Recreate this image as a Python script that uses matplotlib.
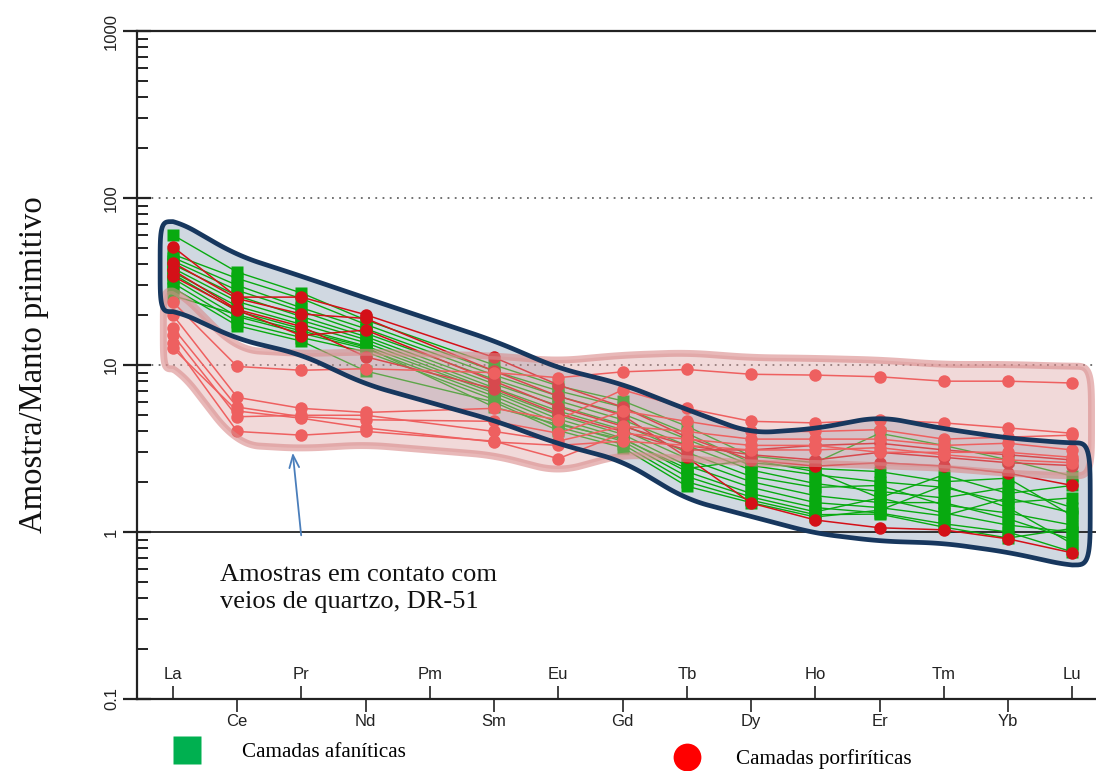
import numpy as np
import matplotlib.pyplot as plt
from matplotlib.patches import Polygon
from matplotlib.lines import Line2D

# elementos terras raras (Pm sem dados)
elements = ["La", "Ce", "Pr", "Nd", "Pm", "Sm", "Eu", "Gd", "Tb", "Dy", "Ho", "Er", "Tm", "Yb", "Lu"]
data_elements = ["La", "Ce", "Pr", "Nd", "Sm", "Eu", "Gd", "Tb", "Dy", "Ho", "Er", "Tm", "Yb", "Lu"]

# camadas afaniticas (verde), normalizado ao manto primitivo
afaniticas = [
    [60, 36, 27, 18.6, 10.0, 7.5, 6.1, 4.3, 2.85, 2.6, 3.9, 3.3, 2.7, 2.16],
    [46, 33, 25, 17.5, 9.2, 7.0, 5.6, 3.9, 2.6, 2.4, 2.3, 2.0, 2.1, 1.25],
    [44, 30, 22, 16.5, 8.7, 6.5, 5.1, 3.6, 2.5, 2.2, 2.0, 1.85, 1.5, 1.6],
    [42, 28, 21, 15.5, 8.2, 6.1, 4.7, 3.3, 2.35, 1.95, 1.75, 1.6, 1.85, 1.4],
    [40, 26, 19.5, 14.8, 7.7, 5.7, 4.4, 3.0, 2.15, 1.85, 1.9, 1.45, 1.3, 1.1],
    [38, 24, 18.5, 14.2, 7.3, 5.3, 4.1, 2.75, 2.0, 1.65, 1.5, 1.5, 1.2, 0.9],
    [36, 22.5, 17.5, 13.6, 7.0, 5.0, 3.85, 2.5, 1.85, 1.5, 1.4, 1.25, 1.6, 1.3],
    [35, 21, 16.5, 13.0, 6.8, 4.75, 3.65, 2.3, 1.7, 1.4, 1.3, 1.12, 1.0, 0.76],
    [33, 19.5, 15.5, 12.5, 6.5, 4.5, 3.5, 2.15, 1.62, 1.32, 1.6, 1.3, 1.1, 1.0],
    [31, 18.2, 14.6, 12.0, 6.2, 4.25, 3.35, 2.0, 1.55, 1.27, 1.28, 1.07, 0.92, 1.05],
    [29, 17.2, 13.9, 9.2, 6.0, 4.05, 3.2, 1.88, 1.5, 1.23, 1.35, 1.9, 1.4, 0.85],
    [26, 20, 16, 12.8, 5.6, 4.4, 3.6, 2.4, 2.7, 2.3, 1.6, 2.2, 1.7, 1.9],
]

# camadas porfiriticas (vermelho)
porfiriticas = [
    [51, 25.5, 25.5, 20, 11.1, 7.6, 5.6, 3.7, 2.7, 2.48, 2.6, 2.48, 2.25, 1.9],
    [41, 25, 20.2, 19, 9.2, 6.5, 5.0, 2.8, 1.49, 1.18, 1.06, 1.03, 0.91, 0.75],
    [34, 21.3, 15, 16.2, 8.0, 5.6, 4.3, 3.3, 2.9, 2.7, 3.0, 2.8, 2.6, 2.5],
    [37, 21.5, 17, 11.2, 7.2, 5.1, 4.0, 3.1, 3.1, 3.3, 3.4, 3.1, 2.9, 2.7],
]

# amostras em contato com veios de quartzo (DR-51)
dr51 = [
    [23.8, 9.8, 9.3, 9.5, 9.0, 8.4, 9.1, 9.4, 8.8, 8.7, 8.5, 8.0, 8.0, 7.8],
    [19.9, 6.4, 5.5, 5.2, 5.5, 4.7, 7.1, 5.5, 4.6, 4.5, 4.7, 4.5, 4.2, 3.9],
    [16.7, 5.6, 4.9, 4.7, 4.6, 3.9, 5.3, 4.6, 4.0, 4.0, 4.1, 3.6, 3.7, 3.8],
    [15.1, 4.9, 5.0, 5.0, 4.0, 3.5, 4.3, 4.0, 3.6, 3.6, 3.6, 3.3, 3.4, 3.1],
    [13.5, 4.0, 3.8, 4.0, 3.5, 2.75, 3.9, 3.6, 3.3, 3.3, 3.0, 3.0, 3.0, 2.8],
    [12.6, 5.3, 4.8, 4.2, 3.46, 3.3, 3.5, 3.3, 3.1, 3.1, 3.2, 2.9, 2.7, 2.6],
]

GREEN = "#08aa10"
RED = "#d41018"
RED_DR = "#fa3636"
SERIF = "Liberation Serif"
SANS = "Liberation Sans"

xpos = np.array([elements.index(e) + 1 for e in data_elements], dtype=float)


def envelope(groups, up, dn, left, right, n=500):
    arr = np.vstack(groups)
    hi = np.log10(arr.max(axis=0)) + up
    lo = np.log10(arr.min(axis=0)) - dn
    xs = np.linspace(xpos[0], xpos[-1], n)
    k = np.ones(25) / 25
    his = np.convolve(np.pad(np.interp(xs, xpos, hi), 12, mode="edge"), k, mode="valid")
    los = np.convolve(np.pad(np.interp(xs, xpos, lo), 12, mode="edge"), k, mode="valid")
    t = np.linspace(0, np.pi, 40)
    # pontas arredondadas (superelipse)
    c, s = np.cos(t), np.sin(t)
    sx = np.sign(s) * np.abs(s) ** 0.45
    sy = np.sign(c) * np.abs(c) ** 0.45
    mid_r, rad_r = (his[-1] + los[-1]) / 2, (his[-1] - los[-1]) / 2
    mid_l, rad_l = (his[0] + los[0]) / 2, (his[0] - los[0]) / 2
    rx = xs[-1] + right * sx
    ry = mid_r + rad_r * sy
    lx = xs[0] - left * sx
    ly = mid_l - rad_l * sy
    px = np.concatenate([xs, rx, xs[::-1], lx])
    py = np.concatenate([his, ry, los[::-1], ly])
    return np.column_stack([px, 10 ** py])


fig = plt.figure(figsize=(10.96, 7.71), dpi=100)
ax = fig.add_axes([137 / 1096, 1 - 699 / 771, 1 - 137 / 1096, (699 - 31) / 771])
ax.set_yscale("log")
ax.set_ylim(0.1, 1000)
ax.set_xlim(0.44, 15.37)

# linhas horizontais
ax.axhline(100, color="#666666", lw=1.3, ls=(0, (1, 3)), zorder=1.5)
ax.axhline(10, color="#666666", lw=1.3, ls=(0, (1, 3)), zorder=1.5)
ax.axhline(1, color="#222222", lw=1.3, zorder=1.5)

# envoltorias
blue_env = envelope(afaniticas + porfiriticas, 0.10, 0.08, 0.2, 0.28)
ax.add_patch(Polygon(blue_env, closed=True, facecolor="#d0d8e1", edgecolor="none", zorder=1))
pink_env = envelope(dr51, 0.10, 0.08, 0.15, 0.3)

for row in afaniticas:
    ax.plot(xpos, row, color=GREEN, lw=1.0, zorder=2)
for row in afaniticas:
    ax.plot(xpos, row, ls="none", marker="s", ms=8.5, color=GREEN, mec="none", zorder=3)
for row in porfiriticas:
    ax.plot(xpos, row, color=RED, lw=1.1, marker="o", ms=9, mec="none", zorder=4)
for row in dr51:
    ax.plot(xpos, row, color=RED_DR, lw=1.1, marker="o", ms=9, mec="none", zorder=4)

ax.add_patch(Polygon(pink_env, closed=True, facecolor="#dea0a0", alpha=0.4, edgecolor="none", zorder=6))
ax.add_patch(Polygon(pink_env, closed=True, fill=False, edgecolor="#d98a8a", alpha=0.6, lw=5, joinstyle="round", zorder=6.5))
ax.add_patch(Polygon(blue_env, closed=True, fill=False, edgecolor="#17375e", lw=3.4, joinstyle="round", zorder=7))

# eixos
ax.spines["right"].set_visible(False)
for side in ["left", "top", "bottom"]:
    ax.spines[side].set_linewidth(1.6)
    ax.spines[side].set_color("#222222")

ax.set_yticks([0.1, 1, 10, 100, 1000])
ax.set_yticklabels(["0.1", "1", "10", "100", "1000"], rotation=90, va="center",
                   fontfamily=SANS, fontsize=12, color="#333333")
ax.tick_params(axis="y", which="major", direction="inout", length=20, width=1.6, pad=3, colors="#222222")
ax.tick_params(axis="y", which="minor", direction="in", length=8, width=1.4, colors="#222222")
ax.yaxis.set_minor_formatter(plt.NullFormatter())

bottom_idx = [i for i in range(len(elements)) if i % 2 == 1]
top_idx = [i for i in range(len(elements)) if i % 2 == 0]
ax.set_xticks([i + 1 for i in bottom_idx])
ax.set_xticklabels([elements[i] for i in bottom_idx], fontfamily=SANS, fontsize=12, color="#222222")
ax.set_xticks([i + 1 for i in top_idx], minor=True)
ax.tick_params(axis="x", which="major", direction="out", length=9.5, width=1.2, pad=1, colors="#222222")
ax.tick_params(axis="x", which="minor", direction="in", length=9.5, width=1.2, colors="#222222")
for i in top_idx:
    ax.annotate(elements[i], xy=(i + 1, 0), xycoords=("data", "axes fraction"),
                xytext=(0, 14.5), textcoords="offset points", ha="center", va="baseline",
                fontfamily=SANS, fontsize=12, color="#222222")

ax.set_ylabel("Amostra/Manto primitivo", fontfamily=SERIF, fontsize=23.5, color="#111111")
ax.yaxis.set_label_coords(-0.092, 0.5)

# anotacao DR-51
ax.annotate("Amostras em contato com\nveios de quartzo, DR-51", xy=(2.86, 3.1), xytext=(1.73, 0.64),
            fontfamily=SERIF, fontsize=19, color="#111111", ha="left", va="top", linespacing=1.25,
            zorder=9)
ax.annotate("", xy=(2.86, 3.1), xytext=(3.0, 0.92),
            arrowprops=dict(arrowstyle="->,head_length=0.9,head_width=0.35", color="#4a7ebb", lw=1.3),
            zorder=9)

# legendas
h1 = Line2D([], [], ls="none", marker="s", ms=20, color="#00b050", mec="none")
h2 = Line2D([], [], ls="none", marker="o", ms=20, color="#ff0000", mec="none")
fig.legend([h1], ["Camadas afaníticas"], loc="center left", bbox_to_anchor=(176 / 1096, 1 - 752 / 771),
           frameon=False, borderpad=0, borderaxespad=0, handlelength=1.0, handletextpad=2.15,
           prop={"family": SERIF, "size": 15.2})
fig.legend([h2], ["Camadas porfiríticas"], loc="center left", bbox_to_anchor=(676 / 1096, 1 - 759 / 771),
           frameon=False, borderpad=0, borderaxespad=0, handlelength=1.0, handletextpad=1.86,
           prop={"family": SERIF, "size": 15.2})

fig.savefig("out.png", dpi=100)
